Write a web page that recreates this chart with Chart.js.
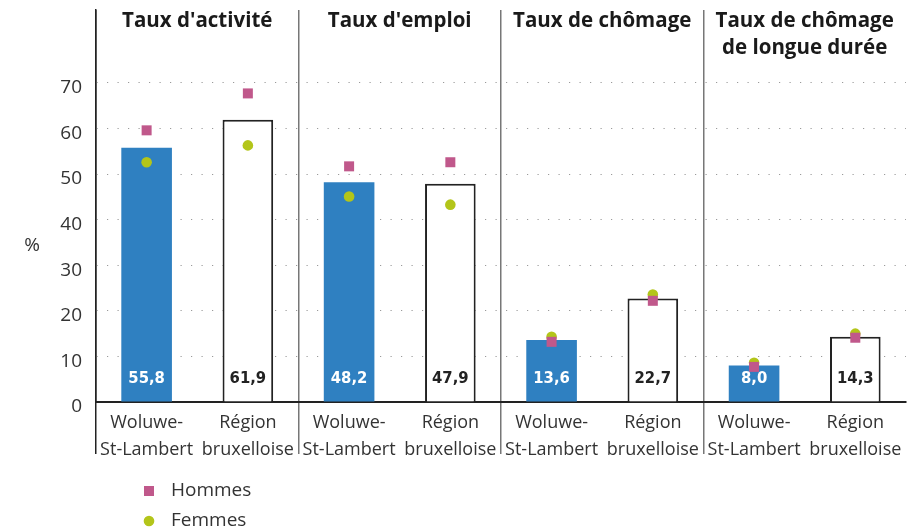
<!DOCTYPE html>
<html><head><meta charset="utf-8">
<script src="https://cdn.jsdelivr.net/npm/chart.js@4"></script>
<style>html,body{margin:0;padding:0;background:#fff}#wrap{width:913px;height:531px}</style>
</head><body><div id="wrap"><canvas id="c" width="913" height="531"></canvas></div>
<script>
const categories = [["Woluwe-","St-Lambert"],["Région","bruxelloise"],["Woluwe-","St-Lambert"],["Région","bruxelloise"],["Woluwe-","St-Lambert"],["Région","bruxelloise"],["Woluwe-","St-Lambert"],["Région","bruxelloise"]];
const panelTitles = [["Taux d'activité"],["Taux d'emploi"],["Taux de chômage"],["Taux de chômage","de longue durée"]];
const totals = [55.8, 61.9, 48.2, 47.9, 13.6, 22.7, 8.0, 14.3];
const totalLabels = ["55,8","61,9","48,2","47,9","13,6","22,7","8,0","14,3"];
const hommes = [59.6, 67.7, 51.7, 52.6, 13.2, 22.2, 7.7, 14.1];
const femmes = [52.6, 56.3, 45.1, 43.3, 14.3, 23.6, 8.6, 15.0];
const yTicks = [0, 10, 20, 30, 40, 50, 60, 70];
const yUnit = "%";

const BLUE = '#2f80c1', PINK = '#c0588b', GREEN = '#b3c51a', DARK = '#222';
const FONT = "'Open Sans', 'DejaVu Sans', sans-serif";

const extras = {
  id: 'extras',
  afterDatasetsDraw(chart) {
    const ctx = chart.ctx, area = chart.chartArea;
    const meta = chart.getDatasetMeta(0);
    ctx.save();
    ctx.font = "bold 16.5px 'DejaVu Sans Condensed', sans-serif";
    ctx.textAlign = 'center'; ctx.textBaseline = 'middle';
    meta.data.forEach((el, i) => {
      ctx.fillStyle = (i % 2 === 0) ? '#fff' : DARK;
      ctx.fillText(totalLabels[i], el.x, area.bottom - 23);
    });
    ctx.restore();
  },
  afterDraw(chart) {
    const ctx = chart.ctx, x = chart.scales.x;
    ctx.save();
    ctx.fillStyle = '#1a1a1a';
    ctx.font = "bold 20.5px " + FONT;
    ctx.textAlign = 'center'; ctx.textBaseline = 'middle';
    panelTitles.forEach((lines, i) => {
      const cx = (x.getPixelForValue(2 * i) + x.getPixelForValue(2 * i + 1)) / 2;
      lines.forEach((t, j) => ctx.fillText(t, cx, 21 + j * 27));
    });
    ctx.fillStyle = '#333';
    ctx.font = "19px " + FONT;
    ctx.fillText(yUnit, 32, 246);
    [1, 2].forEach((di, k) => {
      const ds = chart.data.datasets[di];
      const yy = 491 + k * 30;
      ctx.fillStyle = ds.backgroundColor;
      Chart.helpers.drawPoint(ctx, {pointStyle: ds.pointStyle, radius: ds.pointRadius, borderWidth: 0, rotation: 0}, 149, yy);
      ctx.fillStyle = '#333';
      ctx.textAlign = 'left';
      ctx.fillText(ds.label, 171, yy);
    });
    ctx.restore();
  }
};

new Chart(document.getElementById('c'), {
  type: 'bar',
  data: {
    labels: categories,
    datasets: [
      { label: 'Total', data: totals, order: 3,
        backgroundColor: totals.map((v, i) => i % 2 === 0 ? BLUE : '#fff'),
        borderColor: totals.map((v, i) => i % 2 === 0 ? BLUE : DARK),
        borderWidth: totals.map((v, i) => i % 2 === 0 ? 0 : 2),
        borderSkipped: 'bottom', barPercentage: 0.5, categoryPercentage: 1 },
      { type: 'line', label: 'Hommes', data: hommes, order: 1, showLine: false,
        pointStyle: 'rect', pointRadius: 7.07, backgroundColor: PINK, borderColor: PINK, pointBorderWidth: 0, pointHoverRadius: 7.07 },
      { type: 'line', label: 'Femmes', data: femmes, order: 2, showLine: false,
        pointStyle: 'circle', pointRadius: 5.3, backgroundColor: GREEN, borderColor: GREEN, pointBorderWidth: 0, pointHoverRadius: 5.3 }
    ]
  },
  options: {
    responsive: false, animation: false, devicePixelRatio: 1,
    layout: { padding: { top: 10, right: 5, left: 0, bottom: 0 } },
    plugins: { legend: { display: false }, tooltip: { enabled: false } },
    scales: {
      x: {
        offset: true,
        grid: {
          offset: true, drawTicks: true, tickLength: 52, lineWidth: 1.5, tickWidth: 1.5,
          color: c => c.index % 2 === 0 ? (c.index === 0 ? DARK : '#777') : 'rgba(0,0,0,0)',
          tickColor: c => c.index % 2 === 0 ? (c.index === 0 ? DARK : '#777') : 'rgba(0,0,0,0)'
        },
        border: { display: true, color: DARK, width: 2 },
        ticks: { padding: -45, color: '#333', font: { family: FONT, size: 18, lineHeight: 1.5 }, maxRotation: 0, autoSkip: false },
        afterFit: s => { s.height = 129; s.paddingLeft = 0; s.paddingRight = 0; }
      },
      y: {
        min: 0, max: 86,
        afterBuildTicks: s => { s.ticks = yTicks.map(v => ({ value: v })); },
        afterFit: s => { s.width = 96; s.paddingTop = 0; s.paddingBottom = 0; },
        grid: { drawTicks: false, lineWidth: 1, color: c => c.tick && c.tick.value === 0 ? 'rgba(0,0,0,0)' : '#9a9a9a' },
        border: { display: true, color: DARK, width: 1.5, dash: [1.2, 9.3] },
        ticks: { padding: 14, labelOffset: 5, color: '#333', font: { family: FONT, size: 19 } }
      }
    }
  },
  plugins: [extras]
});
</script></body></html>
